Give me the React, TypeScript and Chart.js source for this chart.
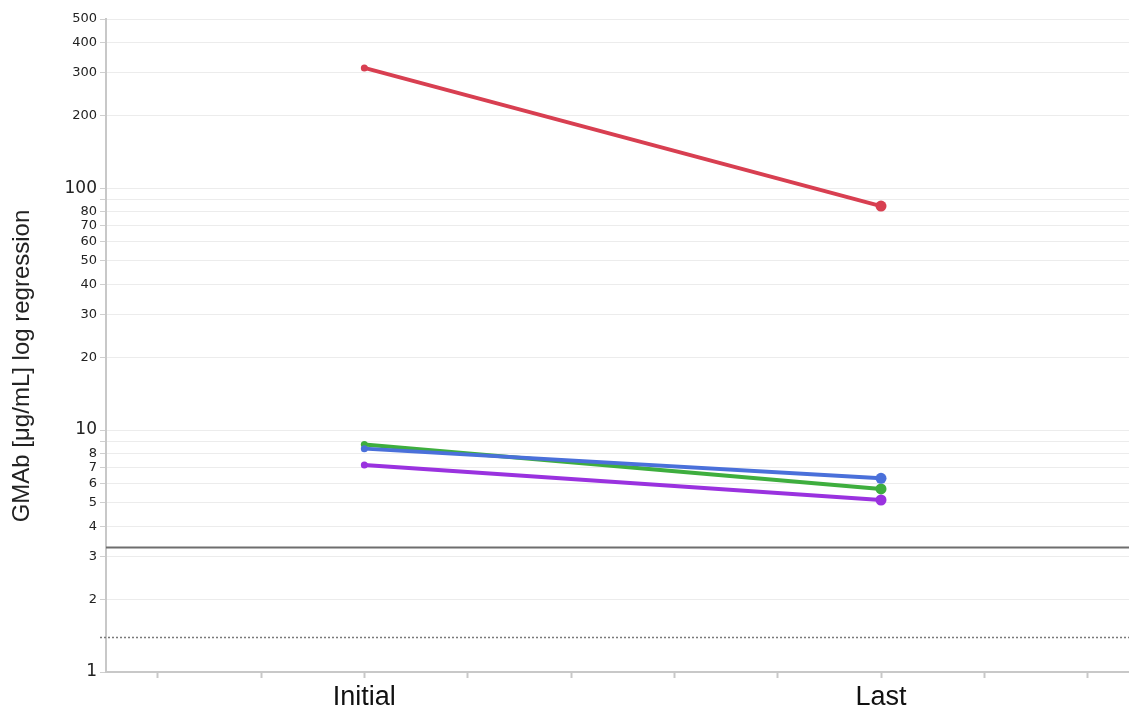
import React, { useEffect, useRef } from "react";
import { Chart, registerables } from "chart.js";

Chart.register(...registerables);

// ---- data ----
const categories = ["Initial", "Last"];
const redSeries = [314, 84.3];
const blueSeries = [8.38, 6.32];
const greenSeries = [8.71, 5.71];
const purpleSeries = [7.17, 5.14];

const yTickValues = [1, 2, 3, 4, 5, 6, 7, 8, 9, 10, 20, 30, 40, 50, 60, 70, 80, 90, 100, 200, 300, 400, 500];
const yHiddenLabels = [9, 90];
const yMajorTicks = [1, 10, 100];
const solidThreshold = 3.3;
const dottedThreshold = 1.4;
const yTitle = "GMAb [μg/mL] log regression";

// layout of the category axis (minor ticks between categories)
const SLOTS_PER_CATEGORY = 5;
const X_MIN = -2.5;
const X_MAX = 7.4;
const X_TICK_FIRST = -2;
const X_TICK_LAST = 7;

const toPoints = (vals: number[]) => vals.map((v, i) => ({ x: i * SLOTS_PER_CATEGORY, y: v }));

const thresholdPlugin = {
  id: "thresholds",
  beforeDatasetsDraw(chart: any) {
    const { ctx, chartArea, scales } = chart;
    const y = scales.y;
    ctx.save();
    const ys = Math.round(y.getPixelForValue(solidThreshold)) + 0.5;
    ctx.strokeStyle = "#6e6e6e";
    ctx.lineWidth = 2;
    ctx.beginPath();
    ctx.moveTo(chartArea.left, ys);
    ctx.lineTo(chartArea.right, ys);
    ctx.stroke();
    const yd = Math.round(y.getPixelForValue(dottedThreshold)) + 0.5;
    ctx.strokeStyle = "#7a7a7a";
    ctx.lineWidth = 1.5;
    ctx.setLineDash([2, 2]);
    ctx.beginPath();
    ctx.moveTo(chartArea.left - 6, yd);
    ctx.lineTo(chartArea.right, yd);
    ctx.stroke();
    ctx.restore();
  },
};

const yTitlePlugin = {
  id: "yTitle",
  afterDraw(chart: any) {
    const { ctx } = chart;
    ctx.save();
    ctx.translate(22, 366);
    ctx.rotate(-Math.PI / 2);
    ctx.fillStyle = "#222";
    ctx.font = "24px 'Liberation Sans', Arial, sans-serif";
    ctx.textAlign = "center";
    ctx.textBaseline = "middle";
    ctx.fillText(yTitle, 0, 0);
    ctx.restore();
  },
};

const makeDataset = (label: string, vals: number[], color: string) => ({
  label,
  data: toPoints(vals),
  borderColor: color,
  backgroundColor: color,
  borderWidth: 4,
  pointRadius: [3.5, 5.5],
  pointHoverRadius: [3.5, 5.5],
  pointBorderWidth: 0,
  tension: 0,
});

export default function App() {
  const ref = useRef<HTMLCanvasElement | null>(null);
  useEffect(() => {
    if (!ref.current) return;
    const chart = new Chart(ref.current, {
      type: "line",
      data: {
        datasets: [
          makeDataset("Red", redSeries, "#d83f51"),
          makeDataset("Purple", purpleSeries, "#9a32df"),
          makeDataset("Blue", blueSeries, "#4a70da"),
          makeDataset("Green", greenSeries, "#3eae3e"),
        ],
      },
      options: {
        animation: false,
        responsive: true,
        maintainAspectRatio: false,
        layout: { autoPadding: false, padding: { top: 19, right: 0, left: 0, bottom: 0 } },
        plugins: { legend: { display: false }, tooltip: { enabled: false } },
        scales: {
          x: {
            type: "linear",
            min: X_MIN,
            max: X_MAX,
            afterBuildTicks: (scale: any) => {
              const t = [];
              for (let v = X_TICK_FIRST; v <= X_TICK_LAST; v++) t.push({ value: v });
              scale.ticks = t;
            },
            afterFit: (scale: any) => {
              scale.height = 36;
              scale.paddingLeft = 0;
              scale.paddingRight = 0;
            },
            ticks: {
              autoSkip: false,
              maxRotation: 0,
              padding: 3,
              color: "#111",
              font: { family: "'Liberation Sans', Arial, sans-serif", size: 27 },
              callback: (value: any) => {
                const idx = value / SLOTS_PER_CATEGORY;
                return Number.isInteger(idx) && categories[idx] ? categories[idx] : "";
              },
            },
            grid: {
              drawOnChartArea: false,
              drawTicks: true,
              tickLength: 6,
              tickColor: "#c8c8c8",
              tickWidth: 2,
            },
            border: { color: "#c8c8c8", width: 2 },
          },
          y: {
            type: "logarithmic",
            min: 1,
            max: 500,
            afterBuildTicks: (scale: any) => {
              scale.ticks = yTickValues.map((v) => ({ value: v, major: yMajorTicks.includes(v) }));
            },
            afterFit: (scale: any) => {
              scale.width = 106;
            },
            ticks: {
              autoSkip: false,
              padding: 3,
              color: "#222",
              font: (ctx: any) => {
                const v = ctx.tick ? ctx.tick.value : 0;
                return {
                  family: "'DejaVu Sans', Verdana, sans-serif",
                  size: yMajorTicks.includes(v) ? 17 : 13,
                };
              },
              callback: (value: any) => (yHiddenLabels.includes(value) ? "" : String(value)),
            },
            grid: {
              color: "#ececec",
              lineWidth: 1,
              drawTicks: true,
              tickLength: 6,
              tickColor: "#cfcfcf",
            },
            border: { color: "#c8c8c8", width: 2 },
            title: { display: false },
          },
        },
      },
      plugins: [thresholdPlugin, yTitlePlugin],
    } as any);
    return () => chart.destroy();
  }, []);
  return (
    <div style={{ position: "absolute", left: 0, top: 0, width: 1129, height: 708 }}>
      <canvas ref={ref} />
    </div>
  );
}
